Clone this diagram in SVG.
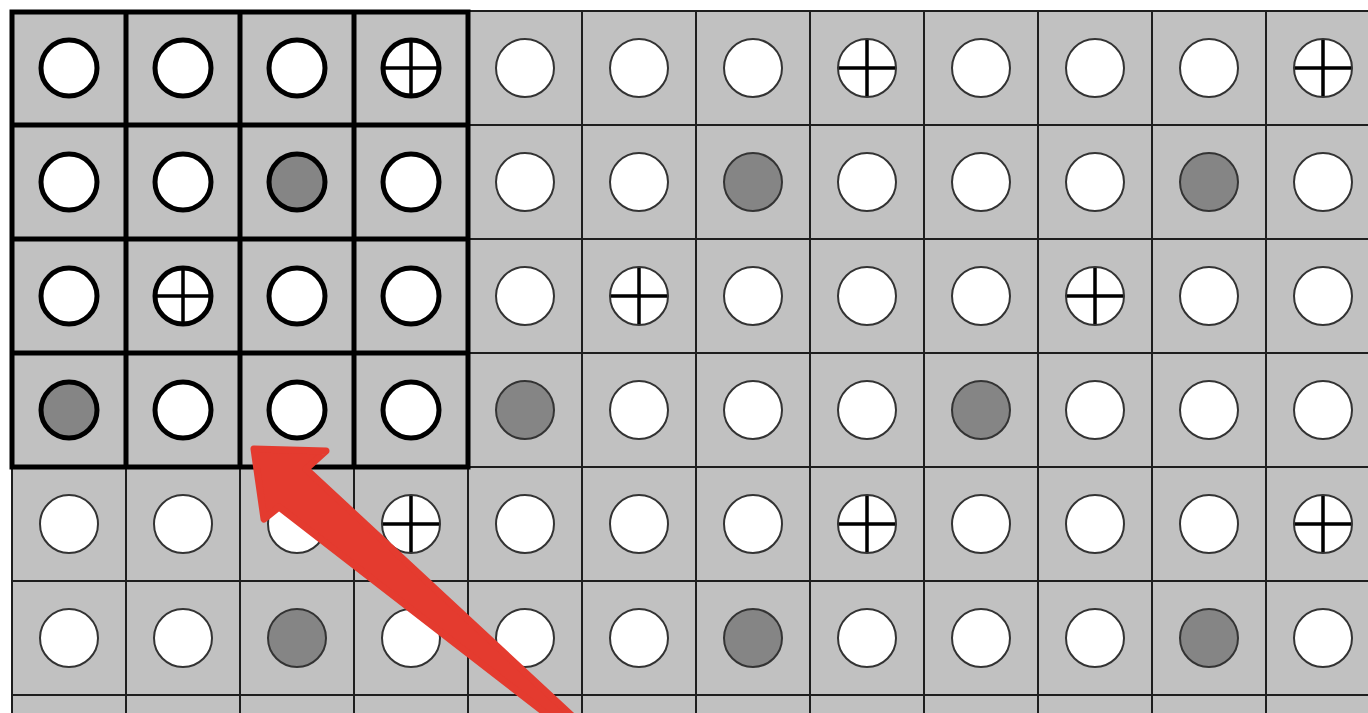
<svg xmlns="http://www.w3.org/2000/svg" xmlns:xlink="http://www.w3.org/1999/xlink" width="1368" height="713" viewBox="0 0 1368 713">
<style>
.bg{fill:#c1c1c1}
.gl{stroke:#1e1e1e;stroke-width:2;fill:none}
.gk{stroke:#000;stroke-width:5;fill:none;stroke-linecap:square}
.tw{fill:#fff;stroke:#333;stroke-width:2}
.tg{fill:#858585;stroke:#333;stroke-width:2}
.kw{fill:#fff;stroke:#000;stroke-width:5}
.kg{fill:#858585;stroke:#000;stroke-width:5}
.xl{stroke:#000;stroke-width:3.5}
.arrow{fill:#e43b2f;stroke:#e43b2f;stroke-width:7;stroke-linejoin:round}
</style>
<defs>
<g id="cw"><circle class="tw" r="29"/></g>
<g id="cg"><circle class="tg" r="29"/></g>
<g id="cx"><circle class="tw" r="29"/><path class="xl" d="M-28 0H28M0 -28V28"/></g>
<g id="kw"><circle class="kw" r="28"/></g>
<g id="kg"><circle class="kg" r="28"/></g>
<g id="kx"><circle class="kw" r="28"/><path class="xl" d="M-26 0H26M0 -26V26"/></g>
</defs>
<rect width="1368" height="713" fill="#fff"/>
<rect class="bg" x="12" y="11" width="1356" height="702"/>
<g id="grid">
<path class="gl" d="M12 11V713M126 11V713M240 11V713M354 11V713M468 11V713M582 11V713M696 11V713M810 11V713M924 11V713M1038 11V713M1152 11V713M1266 11V713"/>
<path class="gl" d="M12 11H1368M12 125H1368M12 239H1368M12 353H1368M12 467H1368M12 581H1368M12 695H1368"/>
<path class="gk" d="M12 12V467M126 12V467M240 12V467M354 12V467M468 12V467M12 12H468M12 125H468M12 239H468M12 353H468M12 467H468"/>
</g>
<g id="row0">
<use href="#kw" x="69" y="68"/><use href="#kw" x="183" y="68"/><use href="#kw" x="297" y="68"/><use href="#kx" x="411" y="68"/>
<use href="#cw" x="525" y="68"/><use href="#cw" x="639" y="68"/><use href="#cw" x="753" y="68"/><use href="#cx" x="867" y="68"/>
<use href="#cw" x="981" y="68"/><use href="#cw" x="1095" y="68"/><use href="#cw" x="1209" y="68"/><use href="#cx" x="1323" y="68"/>
</g>
<g id="row1">
<use href="#kw" x="69" y="182"/><use href="#kw" x="183" y="182"/><use href="#kg" x="297" y="182"/><use href="#kw" x="411" y="182"/>
<use href="#cw" x="525" y="182"/><use href="#cw" x="639" y="182"/><use href="#cg" x="753" y="182"/><use href="#cw" x="867" y="182"/>
<use href="#cw" x="981" y="182"/><use href="#cw" x="1095" y="182"/><use href="#cg" x="1209" y="182"/><use href="#cw" x="1323" y="182"/>
</g>
<g id="row2">
<use href="#kw" x="69" y="296"/><use href="#kx" x="183" y="296"/><use href="#kw" x="297" y="296"/><use href="#kw" x="411" y="296"/>
<use href="#cw" x="525" y="296"/><use href="#cx" x="639" y="296"/><use href="#cw" x="753" y="296"/><use href="#cw" x="867" y="296"/>
<use href="#cw" x="981" y="296"/><use href="#cx" x="1095" y="296"/><use href="#cw" x="1209" y="296"/><use href="#cw" x="1323" y="296"/>
</g>
<g id="row3">
<use href="#kg" x="69" y="410"/><use href="#kw" x="183" y="410"/><use href="#kw" x="297" y="410"/><use href="#kw" x="411" y="410"/>
<use href="#cg" x="525" y="410"/><use href="#cw" x="639" y="410"/><use href="#cw" x="753" y="410"/><use href="#cw" x="867" y="410"/>
<use href="#cg" x="981" y="410"/><use href="#cw" x="1095" y="410"/><use href="#cw" x="1209" y="410"/><use href="#cw" x="1323" y="410"/>
</g>
<g id="row4">
<use href="#cw" x="69" y="524"/><use href="#cw" x="183" y="524"/><use href="#cw" x="297" y="524"/><use href="#cx" x="411" y="524"/>
<use href="#cw" x="525" y="524"/><use href="#cw" x="639" y="524"/><use href="#cw" x="753" y="524"/><use href="#cx" x="867" y="524"/>
<use href="#cw" x="981" y="524"/><use href="#cw" x="1095" y="524"/><use href="#cw" x="1209" y="524"/><use href="#cx" x="1323" y="524"/>
</g>
<g id="row5">
<use href="#cw" x="69" y="638"/><use href="#cw" x="183" y="638"/><use href="#cg" x="297" y="638"/><use href="#cw" x="411" y="638"/>
<use href="#cw" x="525" y="638"/><use href="#cw" x="639" y="638"/><use href="#cg" x="753" y="638"/><use href="#cw" x="867" y="638"/>
<use href="#cw" x="981" y="638"/><use href="#cw" x="1095" y="638"/><use href="#cg" x="1209" y="638"/><use href="#cw" x="1323" y="638"/>
</g>
<g id="connectors">
<polygon class="arrow" points="254,449 326,451 306,469 598,740 580,740 279,507 264,519"/>
</g>
</svg>
